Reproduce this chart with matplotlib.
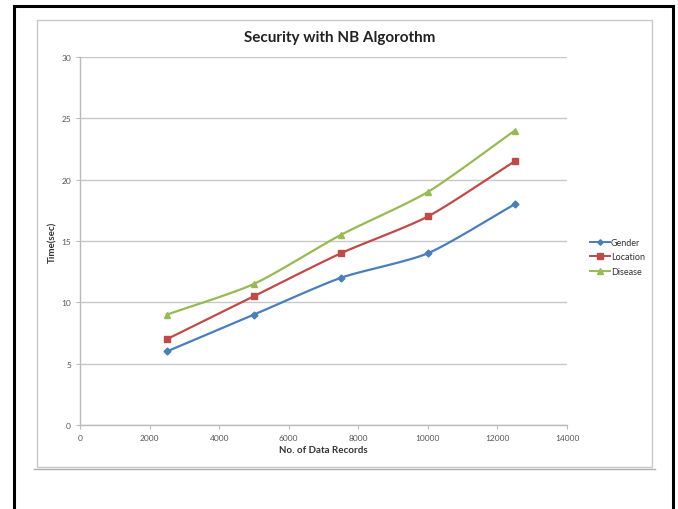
import numpy as np
import matplotlib
matplotlib.use("Agg")
import matplotlib.pyplot as plt
from matplotlib.patches import Rectangle
from matplotlib.lines import Line2D

records = [2500, 5000, 7500, 10000, 12500]
gender = [6, 9, 12, 14, 18]
location = [7, 10.5, 14, 17, 21.5]
disease = [9, 11.5, 15.5, 19, 24]
series_names = ["Gender", "Location", "Disease"]
x_ticks = [0, 2000, 4000, 6000, 8000, 10000, 12000, 14000]
y_ticks = [0, 5, 10, 15, 20, 25, 30]

plt.rcParams['font.family'] = ['Lato', 'DejaVu Sans']


def smooth(xs, ys, n=30, tension=0.35):
    """Cardinal-spline curve through the given points (for smoothed line rendering)."""
    xs = np.asarray(xs, float)
    ys = np.asarray(ys, float)
    px = np.concatenate([[2 * xs[0] - xs[1]], xs, [2 * xs[-1] - xs[-2]]])
    py = np.concatenate([[2 * ys[0] - ys[1]], ys, [2 * ys[-1] - ys[-2]]])
    out_x, out_y = [], []
    for i in range(1, len(px) - 2):
        t = np.linspace(0, 1, n, endpoint=(i == len(px) - 3))
        h00 = 2 * t ** 3 - 3 * t ** 2 + 1
        h10 = t ** 3 - 2 * t ** 2 + t
        h01 = -2 * t ** 3 + 3 * t ** 2
        h11 = t ** 3 - t ** 2
        for p, out in ((px, out_x), (py, out_y)):
            m1 = tension * (p[i + 1] - p[i - 1])
            m2 = tension * (p[i + 2] - p[i])
            out.extend(h00 * p[i] + h10 * m1 + h01 * p[i + 1] + h11 * m2)
    return out_x, out_y


fig = plt.figure(figsize=(6.78, 5.10), dpi=100)
W, H = 678, 510

# outer black frame
fig.patches.append(Rectangle((14 / W, -0.05), (673 - 14) / W, 1.05 - 7 / H,
                             transform=fig.transFigure, fill=False,
                             edgecolor="black", linewidth=2.2))
# chart area frame
fig.patches.append(Rectangle((37 / W, 1 - 468 / H), (652 - 37) / W, (468 - 21) / H,
                             transform=fig.transFigure, fill=False,
                             edgecolor="#c8c8c8", linewidth=1.0))
fig.lines.append(Line2D([34 / W, 655 / W], [1 - 470 / H, 1 - 470 / H],
                        transform=fig.transFigure, color="#b0b0b0", linewidth=1.0))

ax = fig.add_axes([80 / W, 1 - 426 / H, (567 - 80) / W, (426 - 58) / H])

colors = ["#4a7ebb", "#be4b48", "#98b954"]
markers = ["D", "s", "^"]
msizes = [3.5, 5, 5]
for name, vals, c, m, ms in zip(series_names, [gender, location, disease], colors, markers, msizes):
    sx, sy = smooth(records, vals)
    ax.plot(sx, sy, color=c, linewidth=1.6, zorder=3)
    ax.plot(records, vals, linestyle="none", marker=m, markersize=ms,
            color=c, zorder=4)

ax.set_xlim(0, 14000)
ax.set_ylim(0, 30)
ax.set_xticks(x_ticks)
ax.set_yticks(y_ticks)
ax.tick_params(labelsize=6, colors="#bbbbbb", labelcolor="#555555", length=3, width=0.8)
ax.grid(axis="y", color="#c8c8c8", linewidth=1.0)
ax.set_axisbelow(True)
for s in ["top", "right"]:
    ax.spines[s].set_visible(False)
for s in ["left", "bottom"]:
    ax.spines[s].set_color("#bbbbbb")
    ax.spines[s].set_linewidth(1.0)

ax.set_xlabel("No. of Data Records", fontsize=7, fontweight="bold", color="#333333", labelpad=3)
ax.set_ylabel("Time(sec)", fontsize=7, fontweight="bold", color="#333333", labelpad=3)
fig.text(340 / W, 1 - 38 / H, "Security with NB Algorothm", ha="center", va="center",
         fontsize=11, fontweight="bold", color="#222222")

handles = [Line2D([], [], color=c, marker=m, markersize=ms * 0.8, linewidth=1.4)
           for c, m, ms in zip(colors, markers, msizes)]
fig.legend(handles, series_names, loc="center left", bbox_to_anchor=(582 / W, 1 - 258 / H),
           frameon=False, fontsize=6.5, handlelength=2.2, handletextpad=0.1,
           labelspacing=0.6, labelcolor="#333333")

fig.savefig("out.png", dpi=100)
